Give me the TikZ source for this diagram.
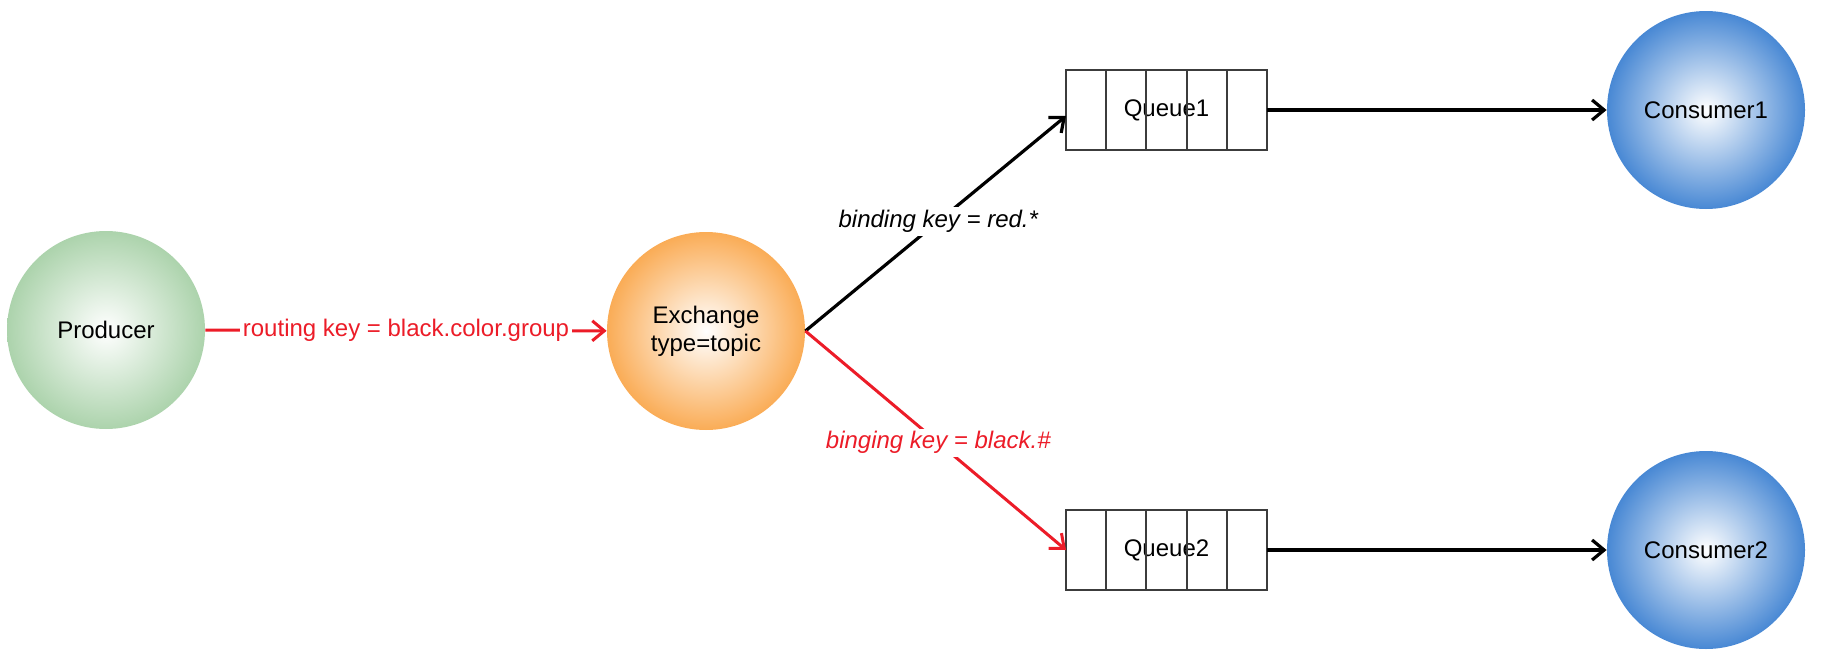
\documentclass[tikz,border=0pt]{standalone}
\usepackage{fontspec}
\setmainfont{Liberation Sans}
\usetikzlibrary{arrows.meta}

\definecolor{prodgreen}{RGB}{172,211,172}
\definecolor{exorange}{RGB}{250,172,86}
\definecolor{consblue}{RGB}{72,136,212}
\definecolor{keyred}{RGB}{236,28,40}
\definecolor{qgray}{RGB}{60,60,60}

\tikzset{
  ball/.style={circle, minimum size=99pt, inner sep=0pt, align=center,
    font=\fontsize{12}{14}\selectfont, shade, inner color=white},
  queuebox/.style={draw=qgray, line width=1pt, minimum width=100.5pt,
    minimum height=40pt, inner sep=0pt, outer sep=0pt,
    font=\fontsize{12}{14}\selectfont},
  keylabel/.style={fill=white, inner sep=1.5pt, font=\fontsize{12}{14}\selectfont},
  blackline/.style={line width=1.6pt, ->},
  redline/.style={line width=1.5pt, draw=keyred, ->}
}

\begin{document}
\begin{tikzpicture}[x=0.5pt, y=-0.5pt, >={Straight Barb[length=6pt,width=10pt]}]
        \useasboundingbox (0,0) rectangle (1848,664);
        % circles
        \node[ball, outer color=prodgreen] (prod) at (106,330) {Producer};
        \node[ball, outer color=exorange] (ex) at (706,331) {Exchange\\type=topic};
        \node[ball, outer color=consblue] (cons1) at (1706,110) {Consumer1};
        \node[ball, outer color=consblue] (cons2) at (1706,550) {Consumer2};
        % queues
        \node[queuebox] (q1) at (1166.5,110) {Queue1};
        \node[queuebox] (q2) at (1166.5,550) {Queue2};
        \foreach \q in {q1,q2}
            \foreach \i in {1,...,4}
                \draw[qgray, line width=1pt] (\q.north west) ++(\i*40.2,0) -- ++(0,80);
        % connectors
        \draw[redline] (prod) -- node[keylabel, text=keyred] {routing key = black.color.group} (ex);
        \draw[blackline] (ex.east) -- node[keylabel, pos=0.51] {\itshape binding key = red.*} ([yshift=-3pt]q1.west);
        \draw[redline] (ex.east) -- node[keylabel, pos=0.51, text=keyred] {\itshape binging key = black.\#} (q2.west);
        \draw[blackline] (q1) -- (cons1);
        \draw[blackline] (q2) -- (cons2);
    \end{tikzpicture}
\end{document}
